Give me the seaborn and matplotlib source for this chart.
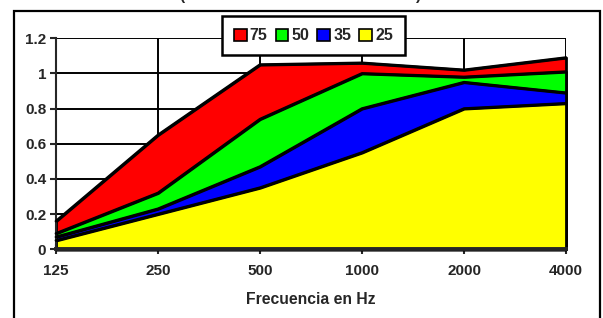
import numpy as np
import pandas as pd
import seaborn as sns
import matplotlib.pyplot as plt
from matplotlib.patches import Patch, Rectangle

# datos
frecuencias = ["125", "250", "500", "1000", "2000", "4000"]
series = ["75", "50", "35", "25"]
v75 = [0.16, 0.65, 1.05, 1.06, 1.02, 1.09]
v50 = [0.09, 0.32, 0.74, 1.00, 0.98, 1.01]
v35 = [0.07, 0.23, 0.47, 0.80, 0.95, 0.89]
v25 = [0.05, 0.20, 0.35, 0.55, 0.80, 0.83]
colores = ["#ff0000", "#00ff00", "#0000ff", "#ffff00"]

df = pd.DataFrame({"freq": frecuencias, "75": v75, "50": v50, "35": v35, "25": v25})
largo = df.melt(id_vars="freq", var_name="serie", value_name="valor")
largo["x"] = largo["freq"].map({f: i for i, f in enumerate(frecuencias)})

sns.set_style("white")
plt.rcParams["font.family"] = ["Liberation Sans", "DejaVu Sans"]
plt.rcParams["font.weight"] = "bold"

fig = plt.figure(figsize=(6.03, 3.18), dpi=100)
ax = fig.add_axes([56 / 603, 1 - 249.3 / 318, 510 / 603, 211 / 318])

for s, c in zip(series, colores):
    d = largo[largo["serie"] == s]
    ax.fill_between(d["x"], 0, d["valor"], facecolor=c, edgecolor="black",
                    linewidth=2, zorder=2, clip_on=False)
    sns.lineplot(data=d, x="x", y="valor", color="black", linewidth=2,
                 ax=ax, zorder=3, clip_on=False, legend=False)

ax.set_xlim(0, 5)
ax.set_ylim(0, 1.2)
ax.set_xticks(range(len(frecuencias)))
ax.set_xticklabels(frecuencias)
ax.set_yticks([0, 0.2, 0.4, 0.6, 0.8, 1, 1.2])
ax.set_yticklabels(["0", "0.2", "0.4", "0.6", "0.8", "1", "1.2"])
ax.grid(True, color="black", linewidth=1.4)
ax.set_axisbelow(True)
for lado in ["top", "right"]:
    ax.spines[lado].set_visible(False)
ax.spines["left"].set_linewidth(1.5)
ax.spines["bottom"].set_linewidth(2.8)
ax.spines["bottom"].set_zorder(4)
ax.tick_params(axis="y", direction="out", length=4, width=1.5, labelsize=11, pad=3, left=True)
ax.tick_params(axis="x", direction="inout", length=7, width=1.5, labelsize=11, pad=7, bottom=True)
for t in ax.get_xticklabels() + ax.get_yticklabels():
    t.set_fontweight("bold")
ax.set_xlabel("Frecuencia en Hz", fontsize=11.3, fontweight="bold", labelpad=10)
ax.set_ylabel("")

manejadores = [Patch(facecolor=c, edgecolor="black", linewidth=1.2, label=s)
               for s, c in zip(series, colores)]
leg = ax.legend(handles=manejadores, ncol=4, loc="center",
                bbox_to_anchor=((313.5 - 56) / 510, (249.3 - 35.7) / 211),
                frameon=True, fancybox=False, framealpha=1, edgecolor="black",
                handlelength=0.8, handleheight=0.8, handletextpad=0.2,
                columnspacing=0.5, borderpad=0.75, borderaxespad=0,
                prop={"size": 11.5, "weight": "bold"})
leg.get_frame().set_linewidth(1.8)
leg.set_zorder(5)

# marco exterior del grafico
fig.patches.append(Rectangle((13.5 / 603, -0.05), (599.5 - 13.5) / 603, 1.05 - 11 / 318,
                             transform=fig.transFigure, fill=False,
                             edgecolor="black", linewidth=1.6))

# restos del titulo cortado
fig.text(182 / 603, 1 - 3 / 318, "(", fontsize=11, va="bottom", ha="center")
fig.text(419 / 603, 1 - 3 / 318, ")", fontsize=11, va="bottom", ha="center")

fig.savefig("out.png", dpi=100)
